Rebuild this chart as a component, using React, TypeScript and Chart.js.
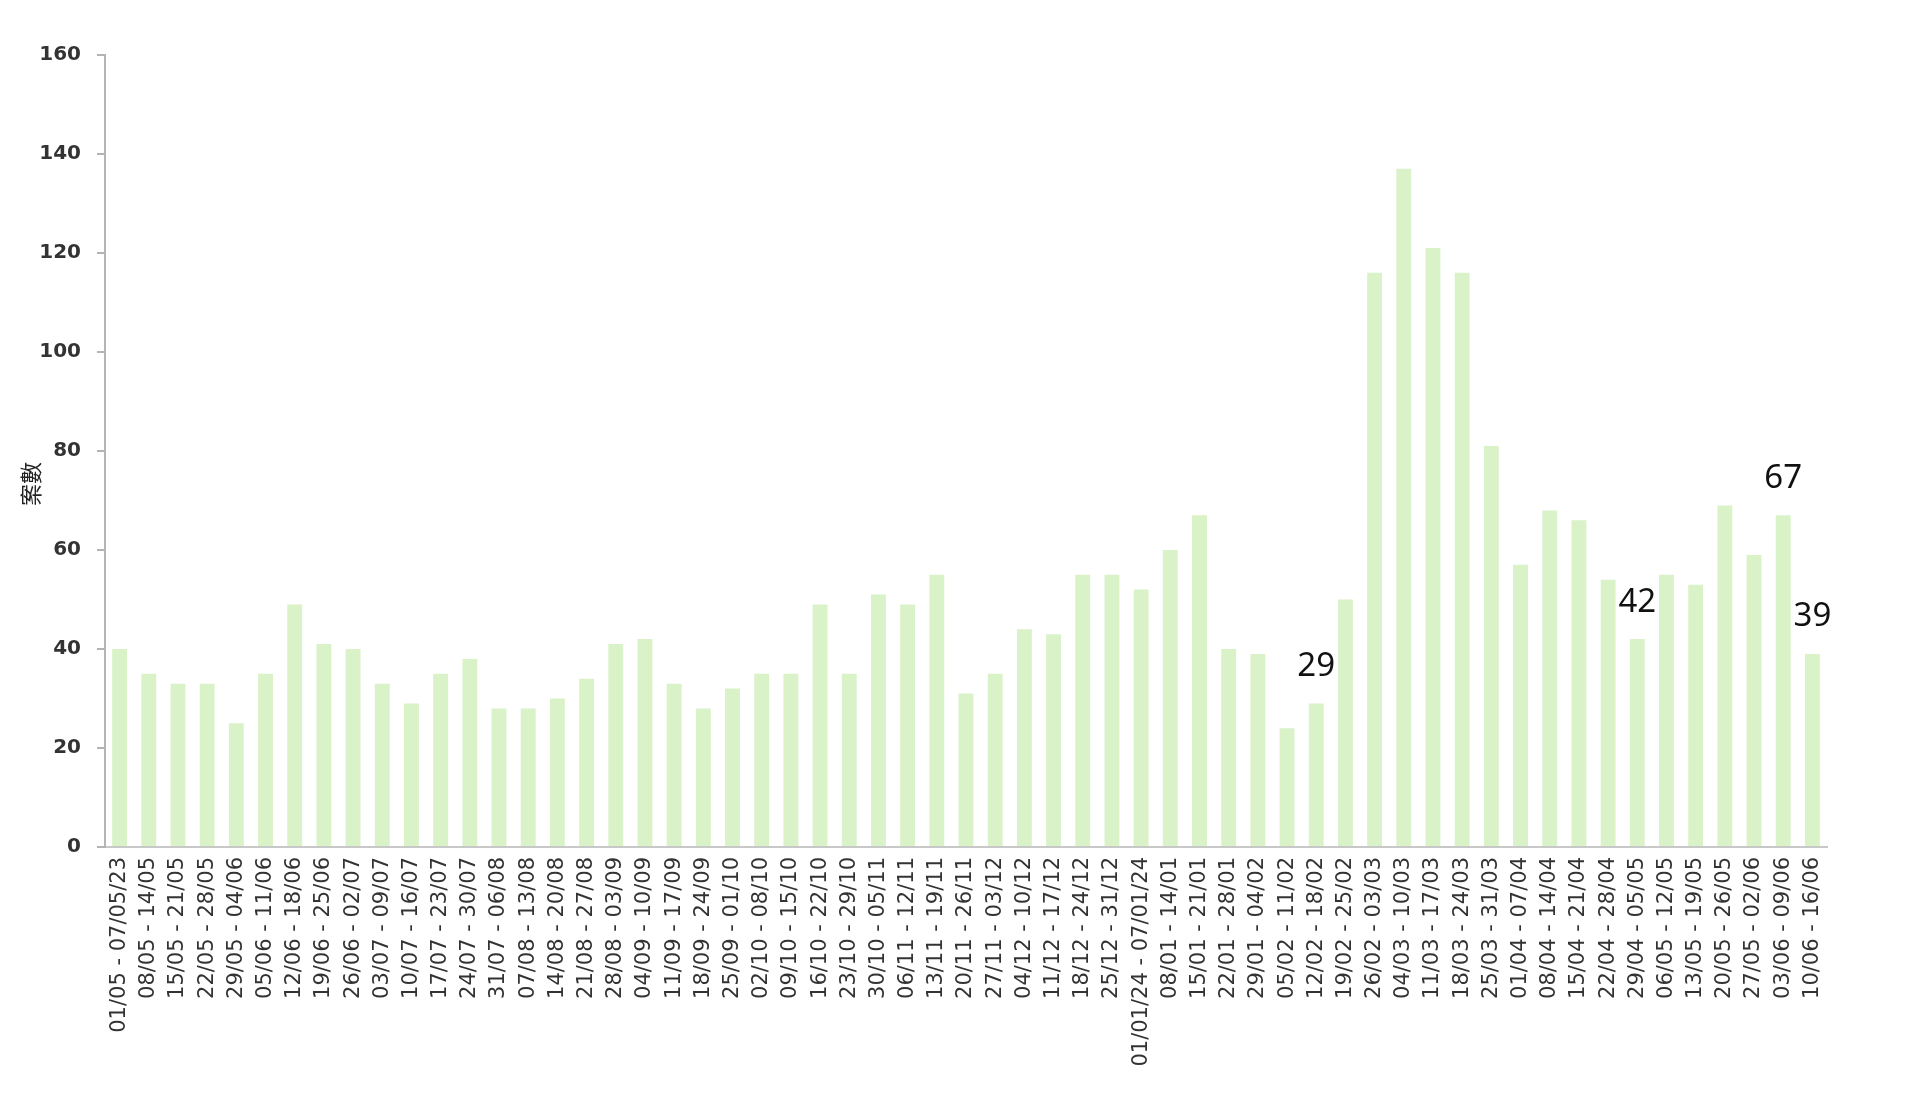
import { useEffect, useRef } from "react";
import { Chart, registerables } from "chart.js";

Chart.register(...registerables);

const weekLabels: string[] = [
  "01/05 - 07/05/23", "08/05 - 14/05", "15/05 - 21/05", "22/05 - 28/05", "29/05 - 04/06",
  "05/06 - 11/06", "12/06 - 18/06", "19/06 - 25/06", "26/06 - 02/07", "03/07 - 09/07",
  "10/07 - 16/07", "17/07 - 23/07", "24/07 - 30/07", "31/07 - 06/08", "07/08 - 13/08",
  "14/08 - 20/08", "21/08 - 27/08", "28/08 - 03/09", "04/09 - 10/09", "11/09 - 17/09",
  "18/09 - 24/09", "25/09 - 01/10", "02/10 - 08/10", "09/10 - 15/10", "16/10 - 22/10",
  "23/10 - 29/10", "30/10 - 05/11", "06/11 - 12/11", "13/11 - 19/11", "20/11 - 26/11",
  "27/11 - 03/12", "04/12 - 10/12", "11/12 - 17/12", "18/12 - 24/12", "25/12 - 31/12",
  "01/01/24 - 07/01/24", "08/01 - 14/01", "15/01 - 21/01", "22/01 - 28/01", "29/01 - 04/02",
  "05/02 - 11/02", "12/02 - 18/02", "19/02 - 25/02", "26/02 - 03/03", "04/03 - 10/03",
  "11/03 - 17/03", "18/03 - 24/03", "25/03 - 31/03", "01/04 - 07/04", "08/04 - 14/04",
  "15/04 - 21/04", "22/04 - 28/04", "29/04 - 05/05", "06/05 - 12/05", "13/05 - 19/05",
  "20/05 - 26/05", "27/05 - 02/06", "03/06 - 09/06", "10/06 - 16/06",
];

const caseCounts: number[] = [
  40, 35, 33, 33, 25, 35, 49, 41, 40, 33,
  29, 35, 38, 28, 28, 30, 34, 41, 42, 33,
  28, 32, 35, 35, 49, 35, 51, 49, 55, 31,
  35, 44, 43, 55, 55, 52, 60, 67, 40, 39,
  24, 29, 50, 116, 137, 121, 116, 81, 57, 68,
  66, 54, 42, 55, 53, 69, 59, 67, 39,
];

// indices of weeks whose value is written above the bar
const annotatedWeeks: number[] = [41, 52, 57, 58];

const yMin = 0;
const yMax = 160;
const yStep = 20;
const yAxisTitle = "案數";

export default function App() {
  const canvasRef = useRef<HTMLCanvasElement | null>(null);

  useEffect(() => {
    const canvas = canvasRef.current;
    if (!canvas) return;

    const valueLabelPlugin = {
      id: "valueLabels",
      afterDatasetsDraw(chart: any) {
        const ctx = chart.ctx;
        const meta = chart.getDatasetMeta(0);
        ctx.save();
        ctx.font = "33px 'Noto Sans'";
        ctx.fillStyle = "#111";
        ctx.textAlign = "center";
        ctx.textBaseline = "middle";
        annotatedWeeks.forEach((i) => {
          const el = meta.data[i];
          if (!el) return;
          ctx.fillText(String(caseCounts[i]), el.x, el.y - 37);
        });
        ctx.restore();
      },
    };

    const yTitlePlugin = {
      id: "yTitle",
      afterDraw(chart: any) {
        const ctx = chart.ctx;
        const area = chart.chartArea;
        ctx.save();
        ctx.translate(31, (area.top + area.bottom) / 2 + 33);
        ctx.rotate(-Math.PI / 2);
        ctx.font = "22px 'Noto Sans CJK TC'";
        ctx.fillStyle = "#222";
        ctx.textAlign = "center";
        ctx.textBaseline = "middle";
        ctx.fillText(yAxisTitle, 0, 0);
        ctx.restore();
      },
    };

    const chart = new Chart(canvas, {
      type: "bar",
      data: {
        labels: weekLabels,
        datasets: [
          {
            data: caseCounts,
            backgroundColor: "rgb(218, 242, 200)",
            borderWidth: 0,
            barPercentage: 0.51,
            categoryPercentage: 1,
          },
        ],
      },
      options: {
        animation: false,
        responsive: false,
        maintainAspectRatio: false,
        layout: { padding: { top: 55, right: 93, bottom: 0, left: 0 } },
        plugins: {
          legend: { display: false },
          tooltip: { enabled: false },
          title: { display: false },
        },
        scales: {
          x: {
            grid: { display: false, drawTicks: false },
            border: { display: true, color: "#c8c8c8", width: 2 },
            ticks: {
              autoSkip: false,
              maxRotation: 90,
              minRotation: 90,
              padding: 10,
              color: "#333",
              font: { family: "'DejaVu Sans'", size: 21 },
            },
            afterFit(scale: any) {
              scale.height = 257;
            },
          },
          y: {
            min: yMin,
            max: yMax,
            grid: {
              drawOnChartArea: false,
              drawTicks: true,
              tickLength: 8,
              color: "#b4b4b4",
              lineWidth: 2,
            },
            border: { display: true, color: "#b4b4b4", width: 2 },
            ticks: {
              stepSize: yStep,
              padding: 16,
              color: "#333",
              font: { family: "'DejaVu Sans'", size: 20, weight: "bold" },
            },
            afterFit(scale: any) {
              scale.width = 105;
            },
          },
        },
      },
      plugins: [valueLabelPlugin, yTitlePlugin],
    });

    return () => {
      chart.destroy();
    };
  }, []);

  return (
    <div style={{ position: "absolute", left: 0, top: 0, width: 1920, height: 1104, background: "#fff" }}>
      <canvas ref={canvasRef} width={1920} height={1104} style={{ display: "block" }} />
    </div>
  );
}
